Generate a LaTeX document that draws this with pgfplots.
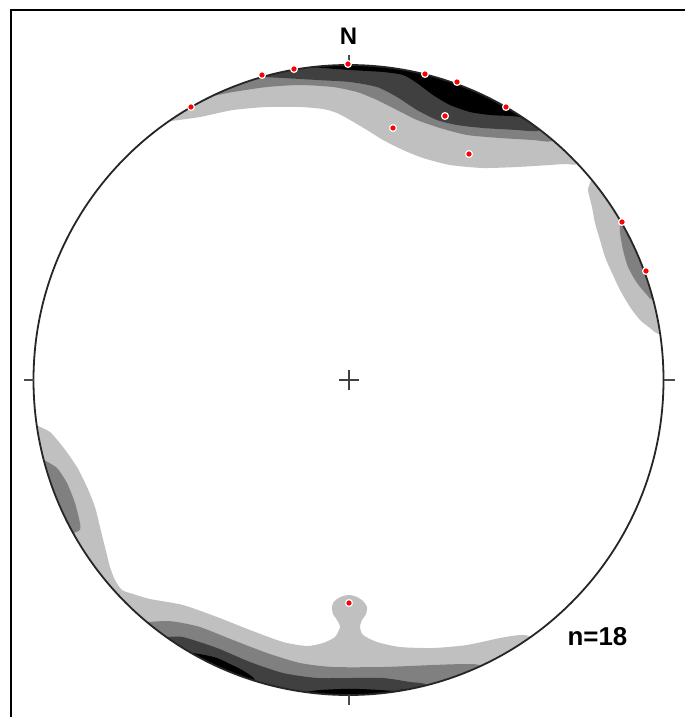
\documentclass[border=0pt]{standalone}
\usepackage{pgfplots}
\pgfplotsset{compat=1.18}
\usepackage{fontspec}
\setmainfont{Liberation Sans}
\definecolor{lg}{HTML}{C0C0C0}
\definecolor{mg}{HTML}{808080}
\definecolor{dg}{HTML}{404040}
\begin{document}
\begin{tikzpicture}
\begin{axis}[scale only axis, width=6.85in, height=7.17in,
  xmin=0, xmax=685, ymin=0, ymax=717, y dir=reverse, hide axis, clip=true]
\path (axis cs:0,0) rectangle (axis cs:685,717);
\pgfplotsset{cont/.style={draw=none, smooth, tension=0.4}}
% ---------------- level 1 (light grey)
\addplot[fill=lg, cont] coordinates {(171,121) (200,117) (233,110) (267,107) (300,107) (323,109) (337,113) (350,120) (367,130) (383,140) (403,150) (423,158) (450,165) (483,168) (517,167) (550,165) (565,164) (578,164) (591.9,149.8) (563.8,123.4) (516,89.9) (463.1,65.2) (406.7,50.1) (348.5,45) (290.3,50.1) (233.9,65.2) (181,89.9) (159.2,103.6)} -- cycle;
\addplot[fill=lg, cont] coordinates {(591,181) (588,190) (592,207) (595,223) (600,240) (605,257) (612,273) (620,290) (630,307) (640,320) (650,328) (659,334) (679.9,331.1) (663.3,265.4) (638.6,212.5) (607.4,167.4)} -- cycle;
\addplot[fill=lg, cont] coordinates {(38,426) (50,432) (63,447) (77,467) (87,487) (95,507) (100,527) (105,547) (110,567) (115,580) (122,590) (133,594) (150,599) (183,605) (217,617) (250,630) (283,642) (307,646) (323,643) (335,637) (340,627) (337,620) (333,614) (332,608) (333,603) (337,599) (343,596) (350,595) (357,597) (363,601) (367,607) (366,614) (362,620) (360,627) (363,635) (377,642) (400,647) (433,648) (467,645) (500,638) (520,635) (530,637) (541.6,653.7) (516,670.1) (463.1,694.8) (406.7,709.9) (348.5,715) (290.3,709.9) (233.9,694.8) (181,670.1) (133.2,636.6) (91.9,595.3) (58.4,547.5) (33.7,494.6) (18.6,438.2) (17.1,428.9)} -- cycle;
% ---------------- level 2 (mid grey)
\addplot[fill=mg, cont] coordinates {(213,96) (233,92) (267,87) (300,85) (333,87) (357,92) (377,100) (397,110) (417,120) (440,128) (467,135) (500,138) (533,140) (552,141) (565.6,124.9) (516,89.9) (463.1,65.2) (406.7,50.1) (348.5,45) (290.3,50.1) (233.9,65.2) (204.2,77.7)} -- cycle;
\addplot[fill=mg, cont] coordinates {(620,222) (620,233) (623,250) (628,267) (637,283) (647,295) (653,300) (672.5,295) (663.3,265.4) (638,211.5)} -- cycle;
\addplot[fill=mg, cont] coordinates {(44,460) (57,468) (67,483) (75,503) (80,523) (80,530) (74,533) (55.9,543.7) (33.7,494.6) (24.5,465)} -- cycle;
\addplot[fill=mg, cont] coordinates {(148,622) (165,621) (177,622) (200,627) (233,640) (267,653) (300,663) (333,667) (383,667) (433,665) (467,664) (481,666) (489.7,683.8) (463.1,694.8) (406.7,709.9) (348.5,715) (290.3,709.9) (233.9,694.8) (181,670.1) (135,638.2)} -- cycle;
% ---------------- level 3 (dark grey)
\addplot[fill=dg, cont] coordinates {(263,77) (283,78) (317,80) (350,82) (377,87) (397,97) (417,110) (437,120) (457,125) (483,128) (517,130) (530,131) (540,130) (552.4,114.2) (516,89.9) (463.1,65.2) (406.7,50.1) (348.5,45) (290.3,50.1) (257.3,57.7)} -- cycle;
\addplot[fill=dg, cont] coordinates {(168,637) (183,637) (217,648) (250,662) (283,673) (317,678) (350,678) (383,678) (410,682) (427,685) (431.8,704.5) (406.7,709.9) (348.5,715) (290.3,709.9) (233.9,694.8) (181,670.1) (156.2,654.3)} -- cycle;
% ---------------- level 4 (black)
\addplot[fill=black, cont] coordinates {(310,67) (323,68) (350,70) (383,72) (403,75) (417,83) (433,95) (450,105) (470,112) (490,115) (510,116) (520,117) (527,120) (538.3,103.9) (516,89.9) (463.1,65.2) (406.7,50.1) (348.5,45) (307.7,47.5)} -- cycle;
\addplot[fill=black, cont] coordinates {(193,653) (205,655) (217,658) (230,664) (242,670) (255,680) (248.7,699.7) (233.9,694.8) (182.5,671)} -- cycle;
\addplot[fill=black, cont] coordinates {(305,692) (320,690) (340,689) (360,689) (380,690) (395,691) (405,690) (408.5,709.6) (348.5,715) (302.5,711.8)} -- cycle;
% mask outside the net
\draw[white, line width=0.26in] (axis cs:348.5,380) circle[radius=328];
% primitive circle, ticks, centre
\draw[black!85, line width=0.018in] (axis cs:348.5,380) circle[radius=315];
\draw[black!70, line width=0.02in] (axis cs:348.5,55) -- (axis cs:348.5,65);
\draw[black!70, line width=0.02in] (axis cs:348.5,695) -- (axis cs:348.5,705);
\draw[black!70, line width=0.02in] (axis cs:24,380) -- (axis cs:33.5,380);
\draw[black!70, line width=0.02in] (axis cs:663.5,380) -- (axis cs:675,380);
\draw[black!75, line width=0.022in] (axis cs:339,380) -- (axis cs:359,380);
\draw[black!75, line width=0.022in] (axis cs:349,370) -- (axis cs:349,390);
% data points
\addplot[only marks, mark=*, mark size=0.034in, mark options={fill=red, draw=white, line width=0.012in}] coordinates {(348,64) (294,69) (262,75) (191,107) (425,74) (457,82) (506,107) (445,116) (393,128) (469,154) (622,222) (646,271) (349,603)};
% labels
\node[font=\fontsize{17.3pt}{20pt}\selectfont\bfseries, inner sep=0pt] at (axis cs:348.5,36.5) {N};
\node[font=\fontsize{18.7pt}{22pt}\selectfont\bfseries, inner sep=0pt] at (axis cs:597.5,636.5) {n=18};
% frame
\draw[black, line width=0.025in] (axis cs:11,717) -- (axis cs:11,10) -- (axis cs:685,10);
\end{axis}
\end{tikzpicture}
\end{document}
